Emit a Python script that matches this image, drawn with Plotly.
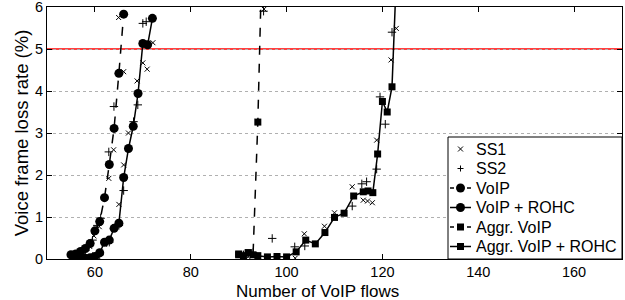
import plotly.graph_objects as go

# ---- data ----
voip_x = [55, 56, 57, 58, 59, 60, 61, 62, 63, 64, 65, 66]
voip_y = [0.10, 0.12, 0.18, 0.25, 0.37, 0.67, 0.89, 1.46, 2.25, 3.11, 4.42, 5.83]

rohc_x = [56, 57, 58, 59, 60, 61, 62, 63, 64, 65, 66, 67, 68, 69, 70, 71, 72]
rohc_y = [0.05, 0.02, 0.02, 0.03, 0.06, 0.15, 0.40, 0.45, 0.73, 0.85, 1.94, 2.63, 3.16, 3.94, 5.13, 5.10, 5.73]

aggr_x = [90, 91, 92, 93, 94, 95]
aggr_y = [0.12, 0.08, 0.15, 0.10, 3.26, 7.8]

aggr_rohc_x = [90, 92, 94, 96, 98, 100, 102, 104, 106, 108, 110, 112, 114, 116, 117, 118, 119, 120, 121, 122, 123]
aggr_rohc_y = [0.10, 0.15, 0.08, 0.05, 0.06, 0.05, 0.17, 0.45, 0.36, 0.63, 0.99, 1.09, 1.50, 1.60, 1.62, 1.58, 2.50, 3.75, 3.50, 4.10, 7.0]

ss1_x = [56.0, 57.5, 58.9, 59.8, 60.9, 62.9, 63.9, 66.0, 64.95,
         58.0, 60.0, 62.0, 64.0, 65.0, 66.0, 67.0, 68.8, 70.0, 70.9, 72.1,
         92.0, 94.0, 96.0, 98.0, 101.8, 103.7, 107.9, 110.0, 113.7, 116.0, 116.9, 117.9, 118.8, 121.8, 122.9, 95.3]
ss1_y = [0.05, 0.10, 0.30, 0.55, 0.77, 1.92, 2.60, 4.46, 5.75,
         0.02, 0.10, 0.35, 0.75, 1.30, 2.24, 3.00, 4.24, 4.67, 4.52, 5.15,
         0.05, 0.05, 0.00, 0.02, 0.02, 0.60, 0.78, 1.10, 1.72, 1.40, 1.38, 1.34, 2.83, 4.74, 5.49, 5.95]

ss2_x = [56.5, 58.0, 59.5, 60.5, 61.2, 62.9, 63.97,
         61.0, 63.0, 65.0, 66.0, 68.06, 68.95, 70.0, 70.7,
         91.0, 93.0, 95.2, 97.0, 101.7, 103.8, 113.7, 115.7, 116.7, 118.8, 119.5, 120.6, 122.0]
ss2_y = [0.08, 0.20, 0.45, 0.80, 0.97, 2.55, 3.63,
         0.10, 0.40, 0.80, 1.63, 3.27, 3.67, 5.61, 5.65,
         0.10, 0.15, 5.90, 0.49, 0.29, 0.31, 1.26, 1.79, 1.84, 2.14, 3.86, 3.21, 5.40]

threshold = 5
x_ticks = [60, 80, 100, 120, 140, 160]
y_ticks = [0, 1, 2, 3, 4, 5, 6]
legend_names = ["SS1", "SS2", "VoIP", "VoIP + ROHC", "Aggr. VoIP", "Aggr. VoIP + ROHC"]
x_title = "Number of VoIP flows"
y_title = "Voice frame loss rate (%)"

FONT = "Liberation Sans, Arial, sans-serif"

# plot area geometry (pixels)
W, H = 625, 300
ML, MR, MT, MB = 47, 3, 7, 41
PW, PH = W - ML - MR, H - MT - MB


def px_x(px):
    return (px - ML) / PW


def px_y(py):
    return (H - MB - py) / PH


fig = go.Figure()
fig.add_trace(go.Scatter(x=ss1_x, y=ss1_y, mode="markers", name=legend_names[0],
                         marker=dict(symbol="x-thin", size=5, color="black",
                                     line=dict(color="black", width=1))))
fig.add_trace(go.Scatter(x=ss2_x, y=ss2_y, mode="markers", name=legend_names[1],
                         marker=dict(symbol="cross-thin", size=6, color="black",
                                     line=dict(color="black", width=1))))
fig.add_trace(go.Scatter(x=voip_x, y=voip_y, mode="lines+markers", name=legend_names[2],
                         line=dict(color="black", width=1.5, dash="dash"),
                         marker=dict(symbol="circle", size=9, color="black")))
fig.add_trace(go.Scatter(x=rohc_x, y=rohc_y, mode="lines+markers", name=legend_names[3],
                         line=dict(color="black", width=1.5),
                         marker=dict(symbol="circle", size=9, color="black")))
fig.add_trace(go.Scatter(x=aggr_x, y=aggr_y, mode="lines+markers", name=legend_names[4],
                         line=dict(color="black", width=1.5, dash="dash"),
                         marker=dict(symbol="square", size=7, color="black")))
fig.add_trace(go.Scatter(x=aggr_rohc_x, y=aggr_rohc_y, mode="lines+markers", name=legend_names[5],
                         line=dict(color="black", width=1.5),
                         marker=dict(symbol="square", size=7, color="black")))

fig.add_shape(type="line", xref="paper", x0=0, x1=1, yref="y", y0=threshold, y1=threshold,
              line=dict(color="red", width=1.3), layer="below")

# ---- custom legend box (drawn in pixel-derived paper coordinates) ----
LEG_L, LEG_T, LEG_R, LEG_B = 448, 137, 622, 259
fig.add_shape(type="rect", xref="paper", yref="paper",
              x0=px_x(LEG_L), x1=px_x(LEG_R), y0=px_y(LEG_B), y1=px_y(LEG_T),
              fillcolor="white", line=dict(color="black", width=1), layer="above")

row_y = [149, 168.5, 188, 207.5, 227, 246.5]
sym_cx = 460.5
styles = [("x", None), ("+", None), ("circle", "dash"), ("circle", "solid"),
          ("square", "dash"), ("square", "solid")]
for name, ry, (sym, dash) in zip(legend_names, row_y, styles):
    yc = px_y(ry)
    if dash is not None:
        fig.add_shape(type="line", xref="paper", yref="paper",
                      x0=px_x(450), x1=px_x(471), y0=yc, y1=yc,
                      line=dict(color="black", width=1.5,
                                dash="4px,13px" if dash == "dash" else "solid"),
                      layer="above")
    common = dict(xref="paper", yref="paper", xsizemode="pixel", ysizemode="pixel",
                  xanchor=px_x(sym_cx), yanchor=yc, layer="above")
    if sym == "circle":
        fig.add_shape(type="circle", x0=-4.5, x1=4.5, y0=-4.5, y1=4.5,
                      fillcolor="black", line=dict(color="black", width=0), **common)
    elif sym == "square":
        fig.add_shape(type="rect", x0=-3.5, x1=3.5, y0=-3.5, y1=3.5,
                      fillcolor="black", line=dict(color="black", width=0), **common)
    elif sym == "x":
        fig.add_shape(type="line", x0=-2.5, x1=2.5, y0=-2.5, y1=2.5,
                      line=dict(color="black", width=1), **common)
        fig.add_shape(type="line", x0=-2.5, x1=2.5, y0=2.5, y1=-2.5,
                      line=dict(color="black", width=1), **common)
    elif sym == "+":
        fig.add_shape(type="line", x0=-3, x1=3, y0=0, y1=0,
                      line=dict(color="black", width=1), **common)
        fig.add_shape(type="line", x0=0, x1=0, y0=-3, y1=3,
                      line=dict(color="black", width=1), **common)
    fig.add_annotation(text=name, xref="paper", yref="paper", x=px_x(474), y=yc,
                       xanchor="left", yanchor="middle", showarrow=False,
                       font=dict(family=FONT, size=16, color="black"))

# x axis title (reference places it slightly left of the plot centre)
fig.add_annotation(text=x_title, xref="paper", yref="paper", x=px_x(317), y=px_y(291),
                   xanchor="center", yanchor="middle", showarrow=False,
                   font=dict(family=FONT, size=17, color="black"))

axis_common = dict(showline=True, linecolor="black", linewidth=1, mirror="ticks",
                   ticks="inside", ticklen=5, tickcolor="black", zeroline=False,
                   automargin=False, ticklabeloverflow="allow",
                   tickfont=dict(family=FONT, size=14.5, color="black"))

fig.update_xaxes(range=[50, 170], tickvals=x_ticks, showgrid=False, **axis_common)
fig.update_yaxes(range=[0, 6], tickvals=y_ticks, showgrid=True, gridcolor="#b0b0b0",
                 griddash="dot", gridwidth=1,
                 title=dict(text=y_title, font=dict(family=FONT, size=18.5, color="black"),
                            standoff=1),
                 **axis_common)

fig.update_layout(
    width=W, height=H,
    margin=dict(l=ML, r=MR, t=MT, b=MB, autoexpand=False),
    paper_bgcolor="white", plot_bgcolor="white",
    font=dict(family=FONT, color="black"),
    showlegend=False,
)

fig.write_html("out.html", config={"displayModeBar": False},
               post_script="document.body.style.margin='0';document.body.style.padding='0';")
